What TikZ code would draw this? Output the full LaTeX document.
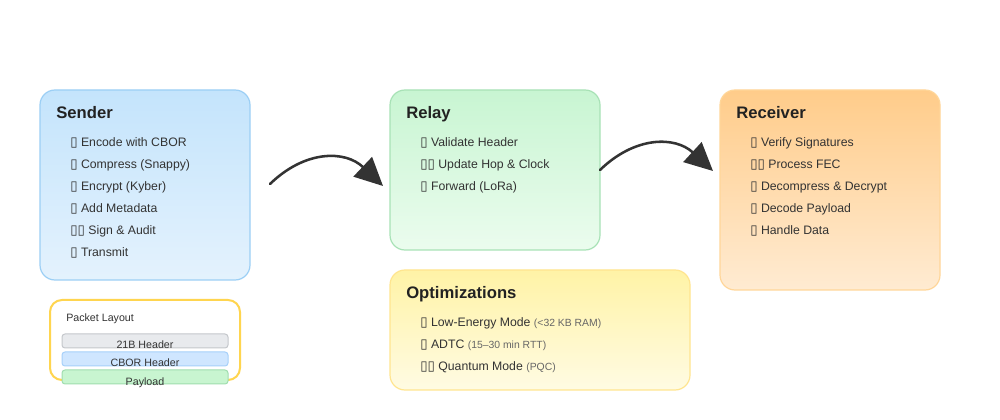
\documentclass[tikz,border=0pt]{standalone}
\usepackage{fontspec}
\setmainfont{Liberation Sans}
\newfontfamily\symfont{DejaVu Sans}
\usetikzlibrary{arrows.meta,shadings}
\definecolor{txt}{HTML}{333333}
\definecolor{ttl}{HTML}{222222}
\definecolor{subtxt}{HTML}{666666}
\definecolor{sendtop}{HTML}{C4E4FC}
\definecolor{sendbot}{HTML}{E4F2FD}
\definecolor{sendbd}{HTML}{9CCFF5}
\definecolor{reltop}{HTML}{C8F5D2}
\definecolor{relbot}{HTML}{EBFCEE}
\definecolor{relbd}{HTML}{A8E2B6}
\definecolor{rectop}{HTML}{FFCC8A}
\definecolor{recbot}{HTML}{FFEBD2}
\definecolor{recbd}{HTML}{FFD699}
\definecolor{opttop}{HTML}{FFF3A6}
\definecolor{optbot}{HTML}{FFFBE3}
\definecolor{optbd}{HTML}{FFE58F}
\definecolor{pktbd}{HTML}{FFD54F}
\definecolor{arr}{HTML}{333333}
\definecolor{gbar}{HTML}{E8EAED}
\definecolor{gbarbd}{HTML}{C4C7CB}
\definecolor{bbar}{HTML}{CFE6FF}
\definecolor{bbarbd}{HTML}{A6D0FA}
\definecolor{pbar}{HTML}{C8F5D0}
\definecolor{pbarbd}{HTML}{9FDDAE}
\newcommand\tofu{{\symfont\fontsize{10pt}{11pt}\selectfont ▯}}
\newcommand\subnote[1]{\textcolor{subtxt}{\fontsize{7.8pt}{9pt}\selectfont #1}}
\tikzset{
  panel/.style={rounded corners=11.25pt, line width=0.9pt},
  title/.style={anchor=base west, font=\fontsize{12.5pt}{14pt}\selectfont\bfseries, text=ttl, inner sep=0pt},
  item/.style={anchor=base west, font=\fontsize{9.2pt}{11pt}\selectfont, text=txt, inner sep=0pt},
  bar/.style={rounded corners=2.25pt, line width=0.75pt, minimum width=124.5pt, minimum height=10.5pt, inner sep=0pt},
  barlbl/.style={anchor=base, font=\fontsize{8pt}{9pt}\selectfont, text=txt, inner sep=0pt},
  flow/.style={-{Triangle[length=21pt,width=20pt]}, line width=1.9pt, draw=arr, line cap=round},
}
\begin{document}
\begin{tikzpicture}[x=0.75pt,y=-0.75pt]
\useasboundingbox[fill=white] (0,0) rectangle (1000,420);
% Sender
\path[panel, top color=sendtop, bottom color=sendbot, draw=sendbd] (40,90) rectangle (250,280);
\node (sender) [title] at (56,119) {Sender};
\node (s1) [item] at (70,147) {\tofu\ Encode with CBOR};
\node (s2) [item] at (70,169) {\tofu\ Compress (Snappy)};
\node (s3) [item] at (70,191) {\tofu\ Encrypt (Kyber)};
\node (s4) [item] at (70,213) {\tofu\ Add Metadata};
\node (s5) [item] at (70,235) {\tofu\tofu\ Sign \& Audit};
\node (s6) [item] at (70,257) {\tofu\ Transmit};
% Relay
\path[panel, top color=reltop, bottom color=relbot, draw=relbd] (390,90) rectangle (600,250);
\node (relay) [title] at (406,119) {Relay};
\node (r1) [item] at (420,147) {\tofu\ Validate Header};
\node (r2) [item] at (420,169) {\tofu\tofu\ Update Hop \& Clock};
\node (r3) [item] at (420,191) {\tofu\ Forward (LoRa)};
% Receiver
\path[panel, top color=rectop, bottom color=recbot, draw=recbd] (720,90) rectangle (940,290);
\node (recv) [title] at (736,119) {Receiver};
\node (v1) [item] at (750,147) {\tofu\ Verify Signatures};
\node (v2) [item] at (750,169) {\tofu\tofu\ Process FEC};
\node (v3) [item] at (750,191) {\tofu\ Decompress \& Decrypt};
\node (v4) [item] at (750,213) {\tofu\ Decode Payload};
\node (v5) [item] at (750,235) {\tofu\ Handle Data};
% Optimizations
\path[panel, top color=opttop, bottom color=optbot, draw=optbd] (390,270) rectangle (690,390);
\node (opt) [title] at (406,299) {Optimizations};
\node (o1) [item] at (420,327) {\tofu\ Low-Energy Mode \subnote{(<32 KB RAM)}};
\node (o2) [item] at (420,349) {\tofu\ ADTC \subnote{(15–30 min RTT)}};
\node (o3) [item] at (420,371) {\tofu\tofu\ Quantum Mode \subnote{(PQC)}};
% Packet layout
\path[rounded corners=9pt, line width=1.5pt, draw=pktbd, fill=white] (50,300) rectangle (240,380);
\node (pkt) [anchor=base west, font=\fontsize{8pt}{9pt}\selectfont, text=txt, inner sep=0pt] at (66,322) {Packet Layout};
\node (b1) [bar, fill=gbar, draw=gbarbd] at (145,341) {};
\node (b2) [bar, fill=bbar, draw=bbarbd] at (145,359) {};
\node (b3) [bar, fill=pbar, draw=pbarbd] at (145,377) {};
\node (l1) [barlbl] at (145,349) {21B Header};
\node (l2) [barlbl] at (145,367) {CBOR Header};
\node (l3) [barlbl] at (145,385) {Payload};
% Arrows
\coordinate (a1s) at (270,184);
\coordinate (a1e) at (383,186);
\coordinate (a2s) at (600,170);
\coordinate (a2e) at (713,171);
\draw[flow] (a1s) .. controls (305,150) and (345,150) .. (a1e);
\draw[flow] (a2s) .. controls (635,136) and (675,136) .. (a2e);
\end{tikzpicture}
\end{document}
